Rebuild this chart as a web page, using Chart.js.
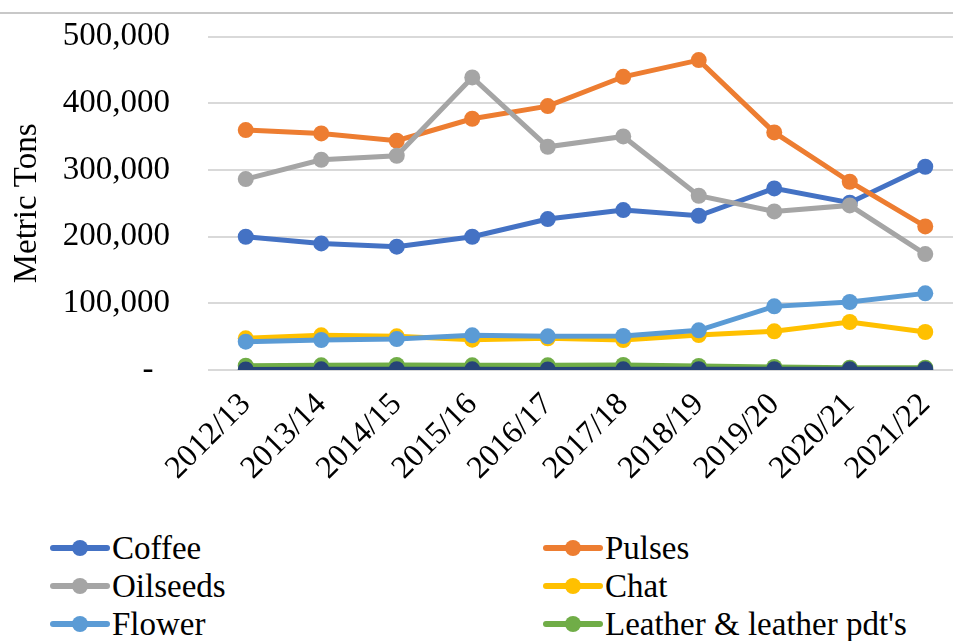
<!DOCTYPE html>
<html>
<head>
<meta charset="utf-8">
<script src="https://cdn.jsdelivr.net/npm/chart.js@4.4.1/dist/chart.umd.min.js"></script>
<style>
  html, body { margin: 0; padding: 0; background: #fff; }
  body { width: 953px; height: 641px; overflow: hidden; position: relative; }
  #topline { position: absolute; left: 0; top: 12px; width: 953px; height: 2px; background: #c8c8c8; }
  #chart { position: absolute; left: 0; top: -21px; }
  #legend { position: absolute; left: 50px; top: 529px; width: 900px;
            display: grid; grid-template-columns: 493px 400px; color: #000; }
  .item { display: flex; align-items: center; height: 38px; white-space: nowrap;
          font-family: "Liberation Serif", "Times New Roman", Times, serif; font-size: 33px; }
  .mark { position: relative; width: 60px; height: 16px; margin-right: 2px; flex: none; }
  .mark .ln { position: absolute; left: 0; right: 0; top: 5px; height: 6px; border-radius: 3px; }
  .mark .dot { position: absolute; left: 22px; top: 0; width: 16px; height: 16px; border-radius: 50%; }
</style>
</head>
<body>
<div id="topline"></div>
<canvas id="chart" width="975" height="520"></canvas>
<div id="legend"></div>
<script>
// Export volumes (metric tons) by fiscal year
const years = ['2012/13', '2013/14', '2014/15', '2015/16', '2016/17', '2017/18', '2018/19', '2019/20', '2020/21', '2021/22'];
const coffee   = [200000, 190000, 185000, 200000, 226500, 240000, 231500, 272500, 251000, 305000];
const pulses   = [360000, 355000, 344000, 377000, 396000, 440000, 465000, 356500, 282500, 215500];
const oilseeds = [286500, 315500, 321500, 439000, 335000, 350500, 261500, 238000, 247000, 174000];
const chat     = [47500, 52000, 50500, 45500, 47500, 45000, 52500, 58000, 72000, 57000];
const flower   = [42500, 45000, 46500, 52000, 50500, 51000, 59500, 95500, 102000, 115000];
const leather  = [6500, 7000, 7500, 7000, 7000, 7500, 6000, 4500, 3500, 3500];
const meat     = [900, 1000, 1100, 1000, 900, 1000, 1100, 1200, 1000, 1100];
const yTicks   = [0, 100000, 200000, 300000, 400000, 500000];

const series = [
    { label: 'Coffee', data: coffee, color: '#4472C4' },
    { label: 'Pulses', data: pulses, color: '#ED7D31' },
    { label: 'Oilseeds', data: oilseeds, color: '#A5A5A5' },
    { label: 'Chat', data: chat, color: '#FFC000' },
    { label: 'Flower', data: flower, color: '#5B9BD5' },
    { label: "Leather & leather pdt's", data: leather, color: '#70AD47' },
    { label: 'Meat', data: meat, color: '#264478' }
];

const serif = "'Liberation Serif', 'Times New Roman', serif";

new Chart(document.getElementById('chart'), {
    type: 'line',
    data: {
        labels: years,
        datasets: series.map((s, i) => ({
            label: s.label,
            data: s.data,
            borderColor: s.color,
            backgroundColor: s.color,
            borderWidth: 5,
            pointRadius: 8,
            pointHoverRadius: 8,
            pointBorderWidth: 0,
            tension: 0,
            order: series.length - i // later series on top, like Excel
        }))
    },
    options: {
        responsive: false,
        animation: false,
        layout: { padding: { top: 14, right: 12, left: 0, bottom: 0 } },
        plugins: {
            legend: { display: false },
            tooltip: { enabled: false }
        },
        scales: {
            x: {
                offset: true,
                grid: { display: false },
                border: { display: false },
                ticks: {
                    minRotation: 45,
                    maxRotation: 45,
                    color: '#000',
                    padding: 8,
                    font: { family: serif, size: 32 }
                },
                afterFit: s => { s.height = 129; }
            },
            y: {
                min: 0,
                max: 500000,
                afterBuildTicks: s => { s.ticks = yTicks.map(v => ({ value: v })); },
                grid: { color: '#d9d9d9', lineWidth: 2, drawTicks: false },
                border: { display: false },
                ticks: {
                    color: '#000',
                    padding: 38,
                    font: { family: serif, size: 33 },
                    callback: v => v === 0 ? '-  ' : v.toLocaleString('en-US')
                },
                title: {
                    display: true,
                    text: 'Metric Tons',
                    color: '#000',
                    font: { family: serif, size: 33 },
                    padding: { top: 8, bottom: 0 }
                },
                afterFit: s => { s.width = 208; }
            }
        }
    }
});

// Excel-style legend, two columns
const legend = document.getElementById('legend');
series.forEach(s => {
    const item = document.createElement('div');
    item.className = 'item';
    item.innerHTML = '<span class="mark"><span class="ln" style="background:' + s.color + '"></span>' +
        '<span class="dot" style="background:' + s.color + '"></span></span>' + s.label;
    legend.appendChild(item);
});
</script>
</body>
</html>
